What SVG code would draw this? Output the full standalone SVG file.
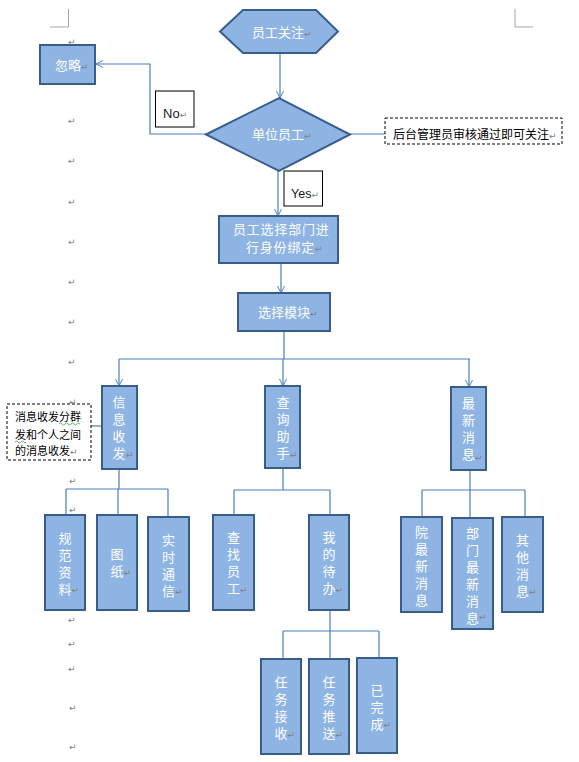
<svg xmlns="http://www.w3.org/2000/svg" width="579" height="762" viewBox="0 0 579 762">
<style>
.n{fill:#8eb4e3;stroke:#385d8a;stroke-width:2}
.c{fill:none;stroke:#4a7ebb;stroke-width:1.2}
.a{marker-end:url(#arr)}
.t{font-family:"Noto Sans CJK SC","Liberation Sans",sans-serif;font-size:13px;fill:#fff}
.v{font-family:"Noto Sans CJK SC",sans-serif;font-size:13px;fill:#fff;writing-mode:vertical-rl;letter-spacing:4px}
.k{font-family:"Noto Sans CJK SC","Liberation Sans",sans-serif;font-size:12px;fill:#000}
.s{font-family:"Noto Sans CJK SC","Liberation Sans",sans-serif;font-size:11px;fill:#000}
.p{font-family:"DejaVu Sans",sans-serif;font-size:9px;fill:#7f7f7f}
.lb{fill:#fff;stroke:#000;stroke-width:1}
.d{fill:#fff;stroke:#000;stroke-width:1;stroke-dasharray:3,2}
.cm{fill:none;stroke:#a6a6a6;stroke-width:1}
</style>
<defs>
<marker id="arr" viewBox="0 0 10 10" refX="10" refY="5" markerWidth="7" markerHeight="8" markerUnits="userSpaceOnUse" orient="auto">
<path d="M0,0 L10,5 L0,10" fill="none" stroke="#4a7ebb" stroke-width="1.4"/>
</marker>
</defs>
<rect width="579" height="762" fill="#fff"/>
<g id="cornermarks">
<path class="cm" d="M68.5,9 V27 H50"/>
<path class="cm" d="M515,9 V27 H533"/>
</g>
<g id="parmarks">
<text class="p" x="68" y="45">↵</text>
<text class="p" x="68" y="124">↵</text>
<text class="p" x="68" y="164">↵</text>
<text class="p" x="68" y="205">↵</text>
<text class="p" x="68" y="245">↵</text>
<text class="p" x="68" y="285">↵</text>
<text class="p" x="68" y="325">↵</text>
<text class="p" x="68" y="365">↵</text>
<text class="p" x="69" y="405">↵</text>
<text class="p" x="69" y="484">↵</text>
<text class="p" x="69" y="513" font-size="6">↵</text>
<text class="p" x="68" y="623" font-size="6">↵</text>
<text class="p" x="68" y="647" font-size="6">↵</text>
<text class="p" x="68" y="672" font-size="6">↵</text>
<text class="p" x="69" y="711">↵</text>
<text class="p" x="69" y="750">↵</text>
</g>
<g id="connectors">
<path class="c a" d="M280,53 V98"/>
<path class="c a" d="M206,134 H150 V64 H96"/>
<path class="c" d="M350,134 H385"/>
<path class="c a" d="M278,171 V216"/>
<path class="c a" d="M281,263 V293"/>
<path class="c" d="M284,331 V359 M119,359 H470"/>
<path class="c a" d="M119,359 V386"/>
<path class="c a" d="M283,359 V386"/>
<path class="c a" d="M469,359 V387"/>
<path class="c" d="M91,426 H102"/>
<path class="c" d="M119,469 V489 M66,489 H168 M66,489 V515 M118,489 V515 M168,489 V517"/>
<path class="c" d="M283,468 V490 M234,490 H330 M234,490 V515 M330,490 V515"/>
<path class="c" d="M470,470 V490 M422,490 H525 M422,490 V517 M470,490 V518 M525,490 V517"/>
<path class="c" d="M330,610 V631 M283,631 H379 M283,631 V659 M330,631 V659 M379,631 V658"/>
</g>
<g id="n_follow">
<polygon class="n" points="220,31.5 243,10 316,10 338,31.5 316,53 243,53"/>
<text class="t" x="252" y="36.5">员工关注<tspan class="p">↵</tspan></text>
</g>
<g id="n_ignore">
<rect class="n" x="40" y="45" width="55" height="39"/>
<text class="t" x="55" y="70">忽略<tspan class="p">↵</tspan></text>
</g>
<g id="l_no">
<rect class="lb" x="155.5" y="91" width="38.5" height="36"/>
<text x="163" y="118" font-family="Liberation Sans,Arial,sans-serif" font-size="13" fill="#1a1a1a">No<tspan class="p">↵</tspan></text>
</g>
<g id="n_unit">
<polygon class="n" points="206,134.5 279,98 350,134.5 279,171"/>
<text class="t" x="252" y="139">单位员工<tspan class="p">↵</tspan></text>
</g>
<g id="note_admin">
<rect class="d" x="385" y="118" width="177" height="26"/>
<text class="k" x="393" y="138.5">后台管理员审核通过即可关注<tspan class="p" font-size="6">↵</tspan></text>
</g>
<g id="l_yes">
<rect class="lb" x="284" y="171" width="38.5" height="35"/>
<text x="291" y="197.5" font-family="Liberation Sans,Arial,sans-serif" font-size="12.5" fill="#1a1a1a">Yes<tspan class="p">↵</tspan></text>
</g>
<g id="n_bind">
<rect class="n" x="219" y="216" width="119" height="47"/>
<text class="t" x="233" y="233.5" font-size="12" letter-spacing="0.8">员工选择部门进</text>
<text class="t" x="246" y="251.5" font-size="12" letter-spacing="0.8">行身份绑定<tspan class="p">↵</tspan></text>
</g>
<g id="n_module">
<rect class="n" x="238" y="293" width="92" height="38"/>
<text class="t" x="258" y="317">选择模块<tspan class="p">↵</tspan></text>
</g>
<g id="note_msg">
<rect class="d" x="7" y="404" width="84" height="56"/>
<text class="s" x="15" y="421">消息收发分群</text>
<text class="s" x="15" y="439">发和个人之间</text>
<text class="s" x="15" y="455">的消息收发<tspan class="p" font-size="6">↵</tspan></text>
<path d="M59,424 q1.5,-2 3,0 t3,0 t3,0 t3,0 t3,0 t3,0 t3,0 M15,442 q1.5,-2 3,0 t3,0 t3,0 t2,0" fill="none" stroke="#3c9a3c" stroke-width="0.8"/>
</g>
<g id="n_msg">
<rect class="n" x="102" y="386" width="35" height="83"/>
<text class="v" x="119" y="395.5">信息收发</text>
<text class="p" x="126" y="458">↵</text>
</g>
<g id="n_query">
<rect class="n" x="265" y="386" width="35" height="82"/>
<text class="v" x="283" y="395.5">查询助手</text>
<text class="p" x="290" y="458">↵</text>
</g>
<g id="n_news">
<rect class="n" x="451" y="387" width="35" height="83"/>
<text class="v" x="468.5" y="396.5">最新消息</text>
<text class="p" x="475" y="461">↵</text>
</g>
<g id="n_spec">
<rect class="n" x="45" y="515" width="40" height="95"/>
<text class="v" x="65" y="532" letter-spacing="3.5">规范资料</text>
<text class="p" x="71.5" y="593">↵</text>
</g>
<g id="n_drawing">
<rect class="n" x="97" y="515" width="40" height="95"/>
<text class="v" x="117" y="547.5">图纸</text>
<text class="p" x="123.5" y="576">↵</text>
</g>
<g id="n_chat">
<rect class="n" x="148" y="517" width="41" height="94"/>
<text class="v" x="168.5" y="533.5" letter-spacing="3.7">实时通信</text>
<text class="p" x="175" y="595">↵</text>
</g>
<g id="n_find">
<rect class="n" x="213" y="515" width="41" height="95"/>
<text class="v" x="233.5" y="530.5" letter-spacing="4">查找员工</text>
<text class="p" x="240" y="593">↵</text>
</g>
<g id="n_todo">
<rect class="n" x="309" y="515" width="40" height="95"/>
<text class="v" x="329" y="530.5" letter-spacing="4">我的待办</text>
<text class="p" x="335.5" y="593">↵</text>
</g>
<g id="n_hospnews">
<rect class="n" x="401" y="517" width="41" height="95"/>
<text class="v" x="421.5" y="525.5" letter-spacing="3.5">院最新消息</text>
</g>
<g id="n_deptnews">
<rect class="n" x="452" y="518" width="41" height="111"/>
<text class="v" x="472.5" y="526.5" letter-spacing="3.4">部门最新消息</text>
<text class="p" x="479" y="620">↵</text>
</g>
<g id="n_othernews">
<rect class="n" x="502" y="517" width="41" height="95"/>
<text class="v" x="522.5" y="533.5" letter-spacing="3.7">其他消息</text>
<text class="p" x="529" y="595">↵</text>
</g>
<g id="n_recv">
<rect class="n" x="261" y="659" width="40" height="95"/>
<text class="v" x="281" y="675.5" letter-spacing="4">任务接收</text>
<text class="p" x="287.5" y="738">↵</text>
</g>
<g id="n_push">
<rect class="n" x="309" y="659" width="40" height="95"/>
<text class="v" x="329" y="675.5" letter-spacing="4">任务推送</text>
<text class="p" x="335.5" y="738">↵</text>
</g>
<g id="n_done">
<rect class="n" x="357" y="658" width="40" height="95"/>
<text class="v" x="377" y="683.5" letter-spacing="3.5">已完成</text>
<text class="p" x="383.5" y="728">↵</text>
</g>
</svg>
